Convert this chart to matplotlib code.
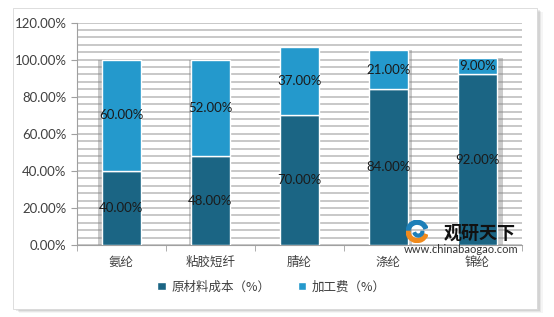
import numpy as np
import matplotlib
matplotlib.use("Agg")
from matplotlib import pyplot as plt
from matplotlib.patches import Rectangle, Wedge
from matplotlib.ticker import MultipleLocator, FuncFormatter

plt.rcParams['font.family'] = ['Noto Sans CJK SC', 'DejaVu Sans']

categories = ['氨纶', '粘胶短纤', '腈纶', '涤纶', '锦纶']
raw_material = [40, 48, 70, 84, 92]
processing = [60, 52, 37, 21, 9]
series_names = ['原材料成本（%）', '加工费（%）']

dark_blue = '#1b6584'
light_blue = '#2499cc'
num_font = ['Lato', 'DejaVu Sans']

fig = plt.figure(figsize=(5.54, 3.17), dpi=100)

# panel with soft shadow
for i, a in enumerate([0.04, 0.06, 0.08]):
    off = (3 - i) * 0.003
    fig.patches.append(Rectangle((0.026 + off, 0.022 - off), 0.945, 0.95,
                                 transform=fig.transFigure, facecolor='#000000',
                                 alpha=a, edgecolor='none', zorder=0))
fig.patches.append(Rectangle((0.024, 0.025), 0.945, 0.95, transform=fig.transFigure,
                             facecolor='white', edgecolor='#d8d8d8', lw=0.6, zorder=1))

ax = fig.add_axes([0.139, 0.227, 0.803, 0.702])
ax.set_zorder(2)
ax.patch.set_alpha(0)

x = np.arange(len(categories))
width = 0.43

# bar shadows
for xi, r, p in zip(x, raw_material, processing):
    ax.add_patch(Rectangle((xi - width / 2 - 0.05 + 0.025 * xi, 0), width + 0.02, r + p,
                           facecolor='#7f7f7f', alpha=0.4, edgecolor='none', zorder=2))

b1 = ax.bar(x, raw_material, width, color=dark_blue, edgecolor='white', lw=1.0,
            label=series_names[0], zorder=3)
b2 = ax.bar(x, processing, width, bottom=raw_material, color=light_blue, edgecolor='white',
            lw=1.0, label=series_names[1], zorder=3)

for xi, r, p in zip(x, raw_material, processing):
    ax.text(xi, r / 2, f'{r:.2f}%', ha='center', va='center', fontsize=9.5,
            color='#1a1a1a', zorder=4, family=num_font)
    ax.text(xi, r + p / 2, f'{p:.2f}%', ha='center', va='center', fontsize=9.5,
            color='#1a1a1a', zorder=4, family=num_font)

ax.set_ylim(0, 120)
ax.set_xlim(-0.5, len(categories) - 0.5)
ax.yaxis.set_major_locator(MultipleLocator(20))
ax.yaxis.set_minor_locator(MultipleLocator(4))
ax.yaxis.set_major_formatter(FuncFormatter(lambda v, _: f'{v:.2f}%'))
ax.grid(axis='y', which='both', color='#bfbfbf', lw=1.2, zorder=0)
ax.set_axisbelow(True)

ax.set_xticks(x)
ax.set_xticklabels(categories, fontsize=9, color='#404040')
ax.set_xticks(np.arange(-0.5, len(categories), 1), minor=True)
ax.tick_params(axis='x', which='major', length=0, pad=8)
ax.tick_params(axis='x', which='minor', length=4, color='#a0a0a0')
ax.tick_params(axis='y', which='major', length=4, color='#a0a0a0', labelsize=9.5,
               labelcolor='#404040')
ax.tick_params(axis='y', which='minor', length=0)
for lbl in ax.get_yticklabels():
    lbl.set_family(num_font)

for s in ['top', 'right']:
    ax.spines[s].set_visible(False)
ax.spines['left'].set_color('#a0a0a0')
ax.spines['bottom'].set_color('#a0a0a0')

fig.legend(handles=[b1, b2], loc='center', bbox_to_anchor=(0.49, 0.095), ncol=2,
           frameon=False, fontsize=9, handlelength=0.7, handleheight=0.7,
           handletextpad=0.4, columnspacing=2.2, labelcolor='#404040')

# watermark
logo = fig.add_axes([0.728, 0.235, 0.05, 0.07])
logo.set_zorder(5)
logo.set_xlim(-1, 1)
logo.set_ylim(-1, 1)
logo.set_aspect('equal')
logo.axis('off')
logo.add_patch(Wedge((0, 0), 1.0, 20, 180, width=0.35, color='#1e7fb8'))
logo.add_patch(Wedge((0, 0), 1.0, 180, 340, width=0.35, color='#f08a1c'))
logo.add_patch(Wedge((0.1, 0), 0.5, 200, 360, width=0.25, color='#1e7fb8'))

fig.text(0.866, 0.265, '观研天下', fontsize=13, fontweight='bold', color='#111111',
         ha='center', va='center', zorder=5)
fig.text(0.833, 0.213, 'www.chinabaogao.com', fontsize=8, color='#333333',
         ha='center', va='center', zorder=5, family=num_font)

fig.savefig('out.png', dpi=100)
